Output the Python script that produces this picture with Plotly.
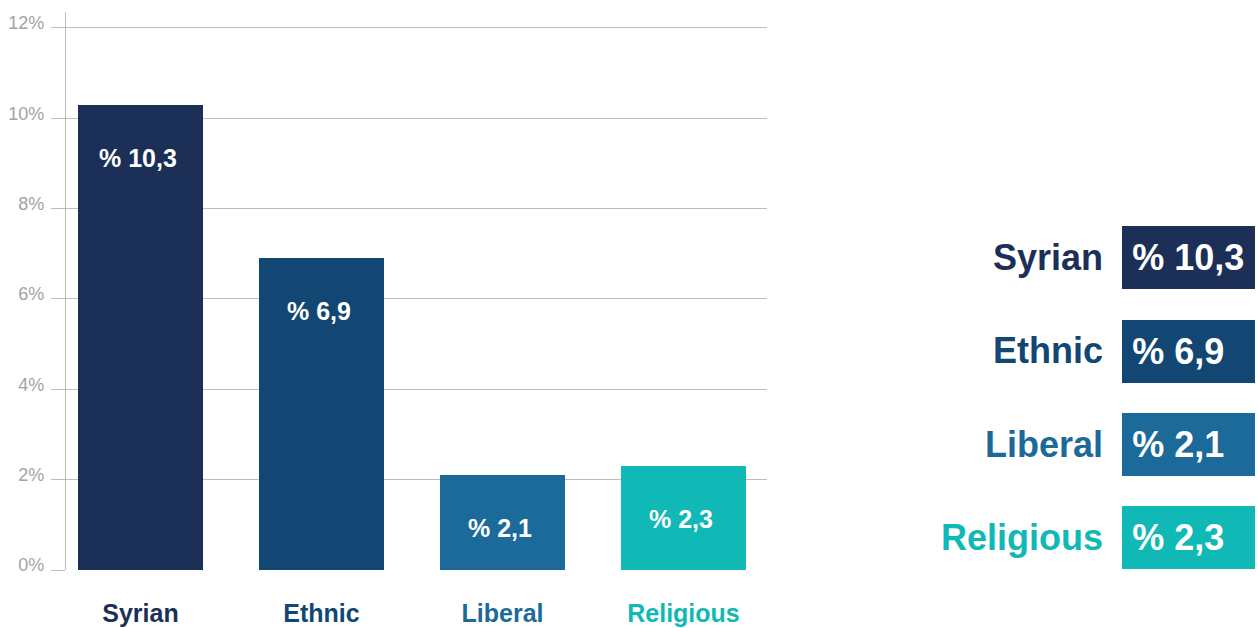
import plotly.graph_objects as go

categories = ["Syrian", "Ethnic", "Liberal", "Religious"]
values = [10.3, 6.9, 2.1, 2.3]
value_labels = ["% 10,3", "% 6,9", "% 2,1", "% 2,3"]
colors = ["#1b2f57", "#124673", "#1c6a99", "#10b8b6"]
y_ticks = [0, 2, 4, 6, 8, 10, 12]
y_tick_labels = ["0%", "2%", "4%", "6%", "8%", "10%", "12%"]
legend_len = [1, 1, 1, 1]

FONT = "Liberation Sans, Arial, sans-serif"
GRID = "#bdbdbd"

fig = go.Figure()

fig.add_trace(go.Bar(
    x=categories, y=values, marker=dict(color=colors, line=dict(width=0)),
    width=0.69, xaxis="x", yaxis="y", hoverinfo="skip", showlegend=False,
))

for c, v, t in zip(categories, values, value_labels):
    fig.add_annotation(x=c, y=v, xref="x", yref="y", text=t, showarrow=False,
                       yshift=-53, xshift=-3,
                       font=dict(family=FONT, size=25, color="white", weight=600))

# right-hand legend panel
fig.add_trace(go.Bar(
    x=legend_len, y=categories, orientation="h",
    marker=dict(color=colors, line=dict(width=0)), width=0.674,
    text=["\u2009" + t for t in value_labels], textposition="inside", insidetextanchor="start",
    textfont=dict(family=FONT, size=36, color="white", weight="bold"),
    xaxis="x2", yaxis="y2", hoverinfo="skip", showlegend=False,
))

ticktext_x = [f"<span style='color:{col}'><b>{c}</b></span>" for c, col in zip(categories, colors)]

fig.update_layout(
    width=1258, height=628,
    margin=dict(l=0, r=0, t=0, b=0),
    paper_bgcolor="white", plot_bgcolor="white",
    font=dict(family=FONT),
    bargap=0,
    xaxis=dict(domain=[66/1258, 767/1258], range=[-0.4116, 3.4613], type="category",
               tickvals=categories, ticktext=ticktext_x, showgrid=False, showline=False,
               zeroline=False, ticks="", tickfont=dict(size=25, family=FONT),
               ticklabelstandoff=26, automargin=False, fixedrange=True),
    yaxis=dict(domain=[58/628, 616/628], range=[0, 12.354], tickvals=y_ticks,
               ticktext=y_tick_labels, showgrid=True, gridcolor=GRID, gridwidth=1.4,
               zeroline=False, showline=True, linecolor=GRID, linewidth=1.4,
               ticks="outside", ticklen=14, tickcolor=GRID, tickwidth=1.4,
               tickfont=dict(size=18, color="#a3a3a3", family=FONT),
               ticklabelstandoff=3, ticklabelshift=-5, automargin=False, fixedrange=True),
    xaxis2=dict(domain=[1122/1258, 1255/1258], range=[0, 1], showgrid=False,
                showticklabels=False, zeroline=False, showline=False, fixedrange=True,
                anchor="y2"),
    yaxis2=dict(domain=[43.75/628, 417.25/628], type="category", autorange="reversed",
                anchor="x2", tickvals=categories, ticktext=ticktext_x,
                tickfont=dict(size=36, family=FONT), showgrid=False, zeroline=False,
                showline=False, ticks="", ticklabelstandoff=18, automargin=False,
                fixedrange=True),
)

fig.write_html("out.html")
